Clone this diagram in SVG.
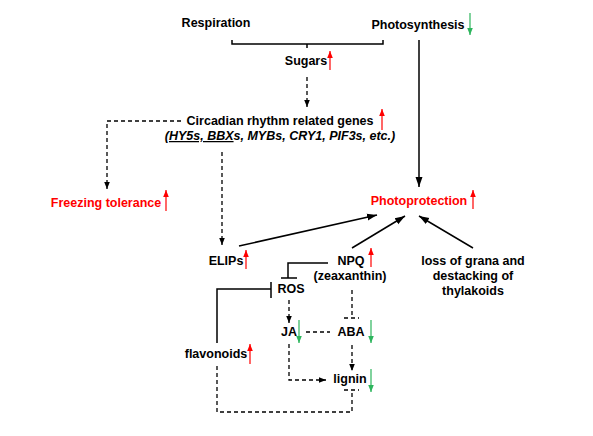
<svg xmlns="http://www.w3.org/2000/svg" width="593" height="436" viewBox="0 0 593 436">
<defs>
<style>
text{font-family:"Liberation Sans",Arial,sans-serif;font-size:12.5px;font-weight:bold;fill:#000}
.r{fill:#ff0000}
.c{text-anchor:middle}
.s{stroke:#000;stroke-width:1.5;fill:none}
.d{stroke:#000;stroke-width:1.3;fill:none;stroke-dasharray:4 3}
.up{stroke:#ff0000;stroke-width:1.2;fill:none}
.dn{stroke:#2db55d;stroke-width:1.2;fill:none}
</style>
<marker id="a" markerUnits="userSpaceOnUse" markerWidth="10" markerHeight="10" viewBox="0 0 10 10" refX="10" refY="5" orient="auto"><path d="M0,1.5 L10,5 L0,8.5 z" fill="#000"/></marker>
<marker id="ad" markerUnits="userSpaceOnUse" markerWidth="7" markerHeight="7" viewBox="0 0 10 10" refX="10" refY="5" orient="auto"><path d="M0,1 L10,5 L0,9 z" fill="#000"/></marker>
<marker id="ar" markerUnits="userSpaceOnUse" markerWidth="7" markerHeight="7" viewBox="0 0 10 10" refX="10" refY="5" orient="auto"><path d="M0,1 L10,5 L0,9 z" fill="#ff0000"/></marker>
<marker id="ag" markerUnits="userSpaceOnUse" markerWidth="7" markerHeight="7" viewBox="0 0 10 10" refX="10" refY="5" orient="auto"><path d="M0,1 L10,5 L0,9 z" fill="#2db55d"/></marker>
</defs>

<g id="connectors">
<path class="s" d="M232,40 V44 H383 V40 M307,44 V48"/>
<path class="s" d="M419,40 V187" marker-end="url(#a)"/>
<path class="d" d="M307,77 V107" marker-end="url(#ad)"/>
<path class="d" d="M181,121 H107 V189" marker-end="url(#ad)"/>
<path class="d" d="M222,152 V245" marker-end="url(#ad)"/>
<path class="s" d="M239,246 L377,215" marker-end="url(#a)"/>
<path class="s" d="M352,248 L405,216" marker-end="url(#a)"/>
<path class="s" d="M473,248 L419,216" marker-end="url(#a)"/>
<path class="s" d="M328,263 H288 V278 M281,278 H297"/>
<path class="s" d="M217,343 V289 H271 M271,282 V298"/>
<path class="d" d="M289,300 V323" marker-end="url(#ad)"/>
<path class="d" d="M352,290 V318"/>
<path class="d" d="M344,318 H359" stroke-dasharray="5 2"/>
<path class="d" d="M306,332 H330"/>
<path class="d" d="M289,344 V380 H326" marker-end="url(#ad)"/>
<path class="d" d="M352,345 V371" marker-end="url(#ad)"/>
<path class="d" d="M217,366 V412 H352 V390"/>
<path class="d" d="M344,390 H359" stroke-dasharray="5 2"/>
</g>

<g id="respiration"><text x="216" y="27" class="c">Respiration</text></g>
<g id="photosynthesis"><text x="418" y="29" class="c">Photosynthesis</text>
<path class="dn" d="M470,13 V35" marker-end="url(#ag)"/></g>
<g id="sugars"><text x="306" y="65" class="c">Sugars</text>
<path class="up" d="M330,70 V51" marker-end="url(#ar)"/></g>
<g id="circadian"><text x="280" y="125" class="c">Circadian rhythm related genes</text>
<text x="280" y="140" class="c" font-style="italic">(<tspan text-decoration="underline">HY5s, BBX</tspan>s, MYBs, CRY1, PIF3s, etc.)</text>
<path class="up" d="M382,130 V109" marker-end="url(#ar)"/></g>
<g id="freezing"><text x="106" y="207" class="c r">Freezing tolerance</text>
<path class="up" d="M166,211 V190" marker-end="url(#ar)"/></g>
<g id="photoprotection"><text x="419" y="205" class="c r">Photoprotection</text>
<path class="up" d="M473,209 V190" marker-end="url(#ar)"/></g>
<g id="elips"><text x="226" y="265" class="c">ELIPs</text>
<path class="up" d="M246,269 V250" marker-end="url(#ar)"/></g>
<g id="npq"><text x="351" y="265" class="c">NPQ</text>
<text x="350" y="280" class="c">(zeaxanthin)</text>
<path class="up" d="M371,267 V248" marker-end="url(#ar)"/></g>
<g id="grana"><text x="473" y="265" class="c">loss of grana and</text>
<text x="473" y="280" class="c">destacking of</text>
<text x="473" y="295" class="c">thylakoids</text></g>
<g id="ros"><text x="291" y="293" class="c">ROS</text></g>
<g id="ja"><text x="289" y="336" class="c">JA</text>
<path class="dn" d="M299,320 V343" marker-end="url(#ag)"/></g>
<g id="aba"><text x="351" y="336" class="c">ABA</text>
<path class="dn" d="M371,320 V343" marker-end="url(#ag)"/></g>
<g id="flavonoids"><text x="216" y="358" class="c">flavonoids</text>
<path class="up" d="M250,364 V344" marker-end="url(#ar)"/></g>
<g id="lignin"><text x="350" y="383" class="c">lignin</text>
<path class="dn" d="M371,369 V392" marker-end="url(#ag)"/></g>
</svg>
